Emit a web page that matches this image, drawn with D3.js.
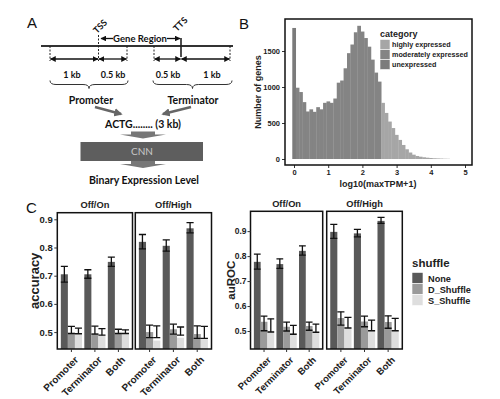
<!DOCTYPE html>
<html><head><meta charset="utf-8">
<script src="https://cdn.jsdelivr.net/npm/d3@7"></script>
<style>body{margin:0;background:#fff}svg{display:block}</style>
</head><body>
<svg id="c" width="500" height="399"></svg>
<script>
// ---------- Panel B data ----------
const binWidth = 0.1;
const histCounts = [1820, 990, 930, 790, 660, 690, 655, 720, 690, 780,
  800, 780, 840, 1060, 1090, 1260, 1470, 1590, 1760, 1850,
  1770, 1680, 1560, 1380, 1200, 1075, 780, 640, 520, 430,
  335, 265, 195, 135, 90, 60, 42, 32, 24, 18,
  14, 10, 8, 6, 4, 3];
const highCutoff = 2.55;
const histCategories = ["highly expressed", "moderately expressed", "unexpressed"];
const histColors = ["#a6a6a6", "#848484", "#7b7b7b"];
const histXTicks = [0, 1, 2, 3, 4, 5];
const histYTicks = [0, 500, 1000, 1500];

// ---------- Panel C data ----------
const regions = ["Promoter", "Terminator", "Both"];
const tasks = ["Off/On", "Off/High"];
const shuffles = ["None", "D_Shuffle", "S_Shuffle"];
const shuffleColors = ["#595959", "#9a9a9a", "#dedede"];
const accTicks = [0.5, 0.6, 0.7, 0.8, 0.9];
const aucTicks = [0.5, 0.6, 0.7, 0.8, 0.9];
// [shuffle][region]
const accOffOnVal = [[0.705, 0.705, 0.749], [0.497, 0.496, 0.497], [0.492, 0.489, 0.493]];
const accOffOnLo  = [[0.677, 0.691, 0.733], [0.495, 0.493, 0.495], [0.494, 0.489, 0.495]];
const accOffOnHi  = [[0.733, 0.721, 0.766], [0.520, 0.521, 0.510], [0.514, 0.512, 0.508]];
const accOffHighVal = [[0.820, 0.806, 0.868], [0.500, 0.510, 0.493], [0.470, 0.480, 0.475]];
const accOffHighLo  = [[0.795, 0.787, 0.852], [0.480, 0.493, 0.478], [0.480, 0.489, 0.478]];
const accOffHighHi  = [[0.846, 0.827, 0.888], [0.525, 0.528, 0.522], [0.522, 0.518, 0.520]];
const aucOffOnVal = [[0.777, 0.768, 0.821], [0.537, 0.517, 0.520], [0.501, 0.492, 0.495]];
const aucOffOnLo  = [[0.748, 0.751, 0.804], [0.501, 0.500, 0.503], [0.496, 0.487, 0.495]];
const aucOffOnHi  = [[0.808, 0.789, 0.841], [0.560, 0.536, 0.536], [0.549, 0.523, 0.528]];
const aucOffHighVal = [[0.897, 0.891, 0.941], [0.552, 0.538, 0.536], [0.511, 0.500, 0.500]];
const aucOffHighLo  = [[0.871, 0.877, 0.931], [0.524, 0.517, 0.511], [0.512, 0.501, 0.501]];
const aucOffHighHi  = [[0.927, 0.907, 0.955], [0.577, 0.560, 0.561], [0.555, 0.544, 0.551]];

const svg = d3.select("#c");
svg.append("rect").attr("width", 500).attr("height", 399).attr("fill", "#fff");
const AR = "Liberation Sans, Arial, sans-serif";
const CAL = "Lato, 'Open Sans', sans-serif";
const defs = svg.append("defs");
defs.append("marker").attr("id", "ah").attr("viewBox", "0 0 10 10")
  .attr("refX", 9).attr("refY", 5).attr("markerWidth", 4.5).attr("markerHeight", 4.5)
  .attr("orient", "auto-start-reverse")
  .append("path").attr("d", "M0,0L10,5L0,10z").attr("fill", "#111");
defs.append("marker").attr("id", "gh").attr("viewBox", "0 0 10 10")
  .attr("refX", 8).attr("refY", 5).attr("markerWidth", 3.2).attr("markerHeight", 3.2)
  .attr("orient", "auto")
  .append("path").attr("d", "M0,0L10,5L0,10z").attr("fill", "#666");

// panel letters
[["A", 27, 28], ["B", 239, 29], ["C", 26, 213]].forEach(([t, x, y]) =>
  svg.append("text").attr("x", x).attr("y", y).text(t)
    .attr("font-family", AR).attr("font-size", 15).attr("fill", "#111"));

// ---------- Panel A (diagram) ----------
const gA = svg.append("g").attr("font-family", CAL).attr("font-weight", "bold").attr("fill", "#111");
gA.append("line").attr("x1", 41).attr("x2", 233).attr("y1", 46).attr("y2", 46)
  .attr("stroke", "#333").attr("stroke-width", 2);
[[50, 46], [98.5, 35], [127, 46], [154, 46], [230, 46]].forEach(([x, y0]) =>
  gA.append("line").attr("x1", x).attr("x2", x).attr("y1", y0).attr("y2", 61)
    .attr("stroke", "#222").attr("stroke-width", 1).attr("stroke-dasharray", "2,1.5"));
gA.append("line").attr("x1", 181).attr("x2", 181).attr("y1", 38).attr("y2", 57)
  .attr("stroke", "#222").attr("stroke-width", 1.6);
[[50.5, 98], [99, 126.5], [154.5, 180.5], [181.5, 229.5]].forEach(([a, b]) =>
  gA.append("line").attr("x1", a).attr("x2", b).attr("y1", 59).attr("y2", 59)
    .attr("stroke", "#111").attr("stroke-width", 1.3)
    .attr("marker-start", "url(#ah)").attr("marker-end", "url(#ah)"));
gA.append("line").attr("x1", 113).attr("x2", 101).attr("y1", 38.5).attr("y2", 38.5)
  .attr("stroke", "#111").attr("stroke-width", 1.3).attr("marker-end", "url(#ah)");
gA.append("line").attr("x1", 167).attr("x2", 180).attr("y1", 38.5).attr("y2", 38.5)
  .attr("stroke", "#111").attr("stroke-width", 1.3).attr("marker-end", "url(#ah)");
gA.append("text").attr("x", 140).attr("y", 41.8).attr("text-anchor", "middle")
  .attr("font-size", 9.5).text("Gene Region");
gA.append("text").attr("transform", "translate(97,34) rotate(-45)").attr("font-size", 9).text("TSS");
gA.append("text").attr("transform", "translate(177,32) rotate(-45)").attr("font-size", 9).text("TTS");
[["1 kb", 72], ["0.5 kb", 113], ["0.5 kb", 168], ["1 kb", 212]].forEach(([t, x]) =>
  gA.append("text").attr("x", x).attr("y", 78).attr("text-anchor", "middle")
    .attr("font-size", 9).text(t));
function brace(x0, x1, y0) {
  const m = (x0 + x1) / 2, h = 4;
  return `M${x0},${y0} Q${x0},${y0 + h} ${x0 + 6},${y0 + h} L${m - 6},${y0 + h} Q${m},${y0 + h} ${m},${y0 + 2 * h}` +
    ` Q${m},${y0 + h} ${m + 6},${y0 + h} L${x1 - 6},${y0 + h} Q${x1},${y0 + h} ${x1},${y0}`;
}
gA.append("path").attr("d", brace(50, 128, 80.5)).attr("fill", "none").attr("stroke", "#333").attr("stroke-width", 1);
gA.append("path").attr("d", brace(153, 232, 80.5)).attr("fill", "none").attr("stroke", "#333").attr("stroke-width", 1);
gA.append("text").attr("x", 91).attr("y", 103.5).attr("text-anchor", "middle").attr("font-size", 10.5).text("Promoter");
gA.append("text").attr("x", 193).attr("y", 103.5).attr("text-anchor", "middle").attr("font-size", 10.5).text("Terminator");
gA.append("line").attr("x1", 95).attr("y1", 107).attr("x2", 121).attr("y2", 114)
  .attr("stroke", "#666").attr("stroke-width", 2.6).attr("marker-end", "url(#gh)");
gA.append("line").attr("x1", 191).attr("y1", 107).attr("x2", 163).attr("y2", 114)
  .attr("stroke", "#666").attr("stroke-width", 2.6).attr("marker-end", "url(#gh)");
gA.append("text").attr("x", 143).attr("y", 127.5).attr("text-anchor", "middle").attr("font-size", 10.5).text("ACTG........ (3 kb)");
function blockArrow(cx, y0) {
  return `M${cx - 12},${y0} L${cx + 12},${y0} L${cx + 12},${y0 + 3} L${cx + 23},${y0 + 3} L${cx},${y0 + 7} L${cx - 23},${y0 + 3} L${cx - 12},${y0 + 3} Z`;
}
gA.append("path").attr("d", blockArrow(143, 131.5)).attr("fill", "#777");
gA.append("rect").attr("x", 80.5).attr("y", 142).attr("width", 122.5).attr("height", 19).attr("fill", "#5e5e5e");
gA.append("text").attr("x", 142).attr("y", 155.3).attr("text-anchor", "middle").attr("font-weight", "normal")
  .attr("font-size", 10).attr("fill", "#c8c8c8").text("CNN");
gA.append("path").attr("d", blockArrow(143, 161)).attr("fill", "#777");
gA.append("text").attr("x", 144).attr("y", 184).attr("text-anchor", "middle").attr("font-size", 10.5).text("Binary Expression Level");

// ---------- Panel B (histogram) ----------
const bx = d3.scaleLinear().domain([0, 5]).range([294, 465]);
const by = d3.scaleLinear().domain([0, 1500]).range([159, 51]);
const colorB = d3.scaleOrdinal().domain(histCategories).range(histColors);
const histData = histCounts.map((c, i) => {
  const center = i * binWidth;
  return {
    x0: center - binWidth / 2, x1: center + binWidth / 2, c,
    cat: i === 0 ? "unexpressed" : (center > highCutoff ? "highly expressed" : "moderately expressed")
  };
});
const gB = svg.append("g");
gB.selectAll("rect.h").data(histData).join("rect")
  .attr("x", d => bx(d.x0)).attr("width", d => bx(d.x1) - bx(d.x0) + 0.3)
  .attr("y", d => by(d.c)).attr("height", d => by(0) - by(d.c))
  .attr("fill", d => colorB(d.cat));
function styleAxis(g, size) {
  g.select(".domain").remove();
  g.selectAll(".tick line").attr("stroke", "#333").attr("stroke-width", 1);
  g.selectAll(".tick text").attr("fill", "#222").attr("font-family", AR)
    .attr("font-weight", "bold").attr("font-size", size);
}
gB.append("g").attr("transform", "translate(285,0)")
  .call(d3.axisLeft(by).tickValues(histYTicks).tickFormat(d3.format("d")).tickSize(3).tickPadding(2))
  .call(g => styleAxis(g, 7.5));
gB.append("g").attr("transform", "translate(0,165)")
  .call(d3.axisBottom(bx).tickValues(histXTicks).tickFormat(d3.format("d")).tickSize(3).tickPadding(1.5))
  .call(g => styleAxis(g, 7.5));
gB.append("rect").attr("x", 285).attr("y", 19).attr("width", 187).attr("height", 146)
  .attr("fill", "none").attr("stroke", "#111").attr("stroke-width", 1.5);
gB.append("text").attr("transform", "translate(261,92) rotate(-90)").attr("text-anchor", "middle")
  .attr("font-family", AR).attr("font-weight", "bold").attr("font-size", 9).attr("fill", "#222").text("Number of genes");
gB.append("text").attr("x", 378).attr("y", 186.5).attr("text-anchor", "middle")
  .attr("font-family", AR).attr("font-weight", "bold").attr("font-size", 9).attr("fill", "#222").text("log10(maxTPM+1)");
const lgB = gB.append("g").attr("font-family", AR).attr("font-weight", "bold").attr("fill", "#222");
lgB.append("text").attr("x", 380).attr("y", 36.5).attr("font-size", 9).text("category");
histCategories.forEach((c, i) => {
  lgB.append("rect").attr("x", 380).attr("y", 39.5 + i * 10).attr("width", 10).attr("height", 10)
    .attr("fill", colorB(c)).attr("stroke", "#fff").attr("stroke-width", 0.6);
  lgB.append("text").attr("x", 392).attr("y", 47 + i * 10).attr("font-size", 7.2).text(c);
});

// ---------- Panel C ----------
const colorC = d3.scaleOrdinal().domain(shuffles).range(shuffleColors);
function facetPanel(cfg) {
  const y = d3.scaleLinear().domain(cfg.yDomain).range([cfg.bottom, cfg.top]);
  const g = svg.append("g");
  cfg.facets.forEach((f, fi) => {
    const xb = d3.scaleBand().domain(regions).range([f.x0, f.x1]).paddingInner(0.1).paddingOuter(0.15);
    const xs = d3.scaleBand().domain(shuffles).range([0, xb.bandwidth()]);
    const clipId = cfg.id + fi;
    g.append("clipPath").attr("id", clipId).append("rect")
      .attr("x", f.x0).attr("y", cfg.top).attr("width", f.x1 - f.x0).attr("height", cfg.bottom - cfg.top);
    const fg = g.append("g").attr("clip-path", `url(#${clipId})`);
    const rows = [];
    shuffles.forEach((s, si) => regions.forEach((r, ri) =>
      rows.push({ s, r, v: f.val[si][ri], lo: f.lo[si][ri], hi: f.hi[si][ri] })));
    fg.selectAll("rect").data(rows).join("rect")
      .attr("x", d => xb(d.r) + xs(d.s)).attr("width", xs.bandwidth())
      .attr("y", d => y(d.v)).attr("height", d => cfg.bottom - y(d.v))
      .attr("fill", d => colorC(d.s));
    const eg = fg.selectAll("g.eb").data(rows).join("g").attr("stroke", "#111").attr("stroke-width", 1.3);
    eg.append("line").attr("x1", d => xb(d.r) + xs(d.s) + xs.bandwidth() / 2).attr("x2", d => xb(d.r) + xs(d.s) + xs.bandwidth() / 2)
      .attr("y1", d => y(d.lo)).attr("y2", d => y(d.hi));
    ["lo", "hi"].forEach(k => eg.append("line")
      .attr("x1", d => xb(d.r) + xs(d.s)).attr("x2", d => xb(d.r) + xs(d.s) + xs.bandwidth())
      .attr("y1", d => y(d[k])).attr("y2", d => y(d[k])));
    g.append("rect").attr("x", f.x0).attr("y", cfg.top).attr("width", f.x1 - f.x0).attr("height", cfg.bottom - cfg.top)
      .attr("fill", "none").attr("stroke", "#111").attr("stroke-width", 1.5);
    g.append("text").attr("x", (f.x0 + f.x1) / 2).attr("y", cfg.top - 4.5).attr("text-anchor", "middle")
      .attr("font-family", AR).attr("font-weight", "bold").attr("font-size", 9.3).attr("fill", "#222").text(f.name);
    const xa = g.append("g").attr("transform", `translate(0,${cfg.bottom})`)
      .call(d3.axisBottom(xb).tickSize(3).tickPadding(2));
    styleAxis(xa, cfg.xFont);
    xa.selectAll(".tick text").attr("text-anchor", "end").attr("dy", 0)
      .attr("transform", "translate(4,8) rotate(-45)");
  });
  const ya = g.append("g").attr("transform", `translate(${cfg.facets[0].x0},0)`)
    .call(d3.axisLeft(y).tickValues(cfg.ticks).tickFormat(d3.format(".1f")).tickSize(3).tickPadding(cfg.tickPad));
  styleAxis(ya, cfg.tickFont);
  g.append("text").attr("transform", `translate(${cfg.labelX},${(cfg.top + cfg.bottom) / 2}) rotate(-90)`)
    .attr("text-anchor", "middle").attr("font-family", AR).attr("font-weight", "bold")
    .attr("font-size", cfg.labelFont).attr("fill", "#222").text(cfg.label);
}
facetPanel({
  id: "acc", label: "accuracy", labelX: 38.5, labelFont: 13, tickFont: 9.5, tickPad: 1.5, xFont: 10,
  top: 212.7, bottom: 349, yDomain: [0.44, 0.9234], ticks: accTicks,
  facets: [
    { name: tasks[0], x0: 57.3, x1: 132.5, val: accOffOnVal, lo: accOffOnLo, hi: accOffOnHi },
    { name: tasks[1], x0: 135.3, x1: 211.5, val: accOffHighVal, lo: accOffHighLo, hi: accOffHighHi }
  ]
});
facetPanel({
  id: "auc", label: "auROC", labelX: 234.5, labelFont: 11.5, tickFont: 8.5, tickPad: 1, xFont: 9.5,
  top: 211.3, bottom: 349, yDomain: [0.428, 0.9794], ticks: aucTicks,
  facets: [
    { name: tasks[0], x0: 250.5, x1: 322.7, val: aucOffOnVal, lo: aucOffOnLo, hi: aucOffOnHi },
    { name: tasks[1], x0: 326.7, x1: 402.3, val: aucOffHighVal, lo: aucOffHighLo, hi: aucOffHighHi }
  ]
});
const lgC = svg.append("g").attr("font-family", AR).attr("font-weight", "bold").attr("fill", "#222");
lgC.append("text").attr("x", 412).attr("y", 267).attr("font-size", 11.5).text("shuffle");
shuffles.forEach((s, i) => {
  lgC.append("rect").attr("x", 412).attr("y", 272.5 + i * 11).attr("width", 11).attr("height", 11)
    .attr("fill", colorC(s)).attr("stroke", "#fff").attr("stroke-width", 0.6);
  lgC.append("text").attr("x", 428).attr("y", 281.5 + i * 11).attr("font-size", 9.2).text(s);
});
</script>
</body></html>
